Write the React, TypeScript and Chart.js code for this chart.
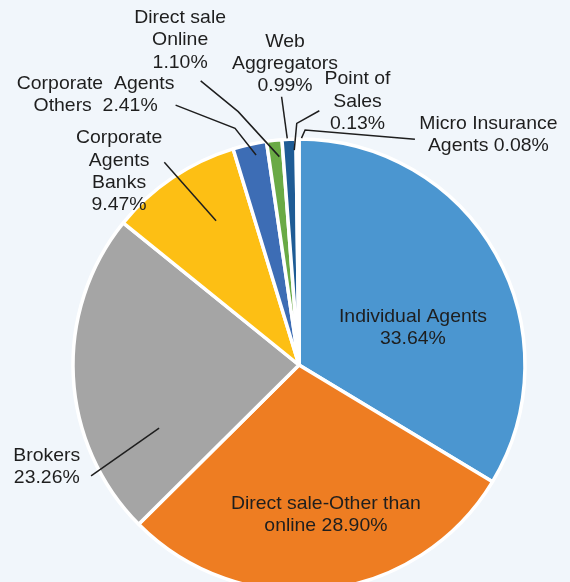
import React, { useEffect, useRef } from "react";
import Chart from "chart.js/auto";

// ---- data ----
const CATEGORIES = [
  "Individual Agents",
  "Direct sale-Other than online",
  "Brokers",
  "Corporate Agents Banks",
  "Corporate Agents Others",
  "Direct sale Online",
  "Web Aggregators",
  "Point of Sales",
  "Micro Insurance Agents",
];
const SHARES = [33.64, 28.9, 23.26, 9.47, 2.41, 1.1, 0.99, 0.13, 0.08];
// label text lines; {v} is replaced by the formatted share
const LABEL_LINES = [
  ["Individual Agents", "{v}"],
  ["Direct sale-Other than", "online {v}"],
  ["Brokers", "{v}"],
  ["Corporate", "Agents", "Banks", "{v}"],
  ["Corporate  Agents", "Others  {v}"],
  ["Direct sale", "Online", "{v}"],
  ["Web", "Aggregators", "{v}"],
  ["Point of", "Sales", "{v}"],
  ["Micro Insurance", "Agents {v}"],
];
const COLORS = [
  "#4b96d0",
  "#ee7d22",
  "#a5a5a5",
  "#fdbf14",
  "#3d6db5",
  "#6aaa45",
  "#1f5c95",
  "#9e480e",
  "#636363",
];

// ---- annotation layout (in units of the pie radius, relative to the pie centre) ----
const LABEL_POS = [
  [0.504, -0.212],
  [0.119, 0.615],
  [-1.116, 0.403],
  [-0.796, -1.003],
  [-0.9, -1.243],
  [-0.526, -1.535],
  [-0.062, -1.431],
  [0.259, -1.265],
  [0.838, -1.066],
];
const LEADERS = [
  null,
  null,
  [[-0.92, 0.491], [-0.619, 0.279]],
  [[-0.596, -0.897], [-0.367, -0.638]],
  [[-0.546, -1.15], [-0.283, -1.047], [-0.19, -0.929]],
  [[-0.435, -1.257], [-0.269, -1.121], [-0.087, -0.922]],
  [[-0.077, -1.187], [-0.052, -1.003]],
  [[0.09, -1.125], [-0.01, -1.069], [-0.021, -0.951]],
  [[0.513, -0.999], [0.027, -1.04], [0.011, -1.004]],
];
const FONT_SIZE = 18.5;
const LINE_HEIGHT = 22.3;
const TEXT_SCALE_X = 1.05;
const TEXT_COLOR = "#1e1e1e";
const BG = "#f1f6fb";

const labelPlugin = {
  id: "pieLabels",
  afterDatasetsDraw(chart: any) {
    const meta = chart.getDatasetMeta(0);
    const arc = meta.data[0];
    if (!arc) return;
    const { x: cx, y: cy, outerRadius: R } = arc.getProps(["x", "y", "outerRadius"], true);
    const ctx = chart.ctx;
    ctx.save();
    ctx.strokeStyle = TEXT_COLOR;
    ctx.lineWidth = 1.5;
    ctx.lineJoin = "miter";
    LEADERS.forEach((pts) => {
      if (!pts) return;
      ctx.beginPath();
      pts.forEach(([dx, dy], i) => {
        const px = cx + dx * R;
        const py = cy + dy * R;
        if (i === 0) ctx.moveTo(px, py);
        else ctx.lineTo(px, py);
      });
      ctx.stroke();
    });
    ctx.fillStyle = TEXT_COLOR;
    ctx.font = `${FONT_SIZE}px "Liberation Sans", Arial, sans-serif`;
    ctx.textAlign = "center";
    ctx.textBaseline = "middle";
    LABEL_LINES.forEach((lines, i) => {
      const v = SHARES[i].toFixed(2) + "%";
      const [dx, dy] = LABEL_POS[i];
      const x = cx + dx * R;
      const y0 = cy + dy * R;
      lines.forEach((ln, j) => {
        ctx.save();
        ctx.translate(x, y0 + j * LINE_HEIGHT);
        ctx.scale(TEXT_SCALE_X, 1);
        ctx.fillText(ln.replace("{v}", v), 0, 0);
        ctx.restore();
      });
    });
    ctx.restore();
  },
};

export default function App() {
  const ref = useRef<HTMLCanvasElement | null>(null);
  useEffect(() => {
    document.body.style.margin = "0";
    const canvas = ref.current;
    if (!canvas) return;
    const chart = new Chart(canvas, {
      type: "pie",
      data: {
        labels: CATEGORIES,
        datasets: [
          {
            data: SHARES,
            backgroundColor: COLORS,
            borderColor: "#ffffff",
            borderWidth: 3.5,
            radius: 226,
            clip: false,
          } as any,
        ],
      },
      options: {
        responsive: false,
        animation: false,
        devicePixelRatio: 1,
        events: [],
        layout: { padding: { top: 148, bottom: 0, left: 28, right: 0 } },
        plugins: {
          legend: { display: false },
          tooltip: { enabled: false },
        },
      },
      plugins: [labelPlugin],
    });
    return () => chart.destroy();
  }, []);
  return (
    <div style={{ width: 570, height: 582, background: BG, overflow: "hidden" }}>
      <canvas ref={ref} width={570} height={582} style={{ display: "block" }} />
    </div>
  );
}
